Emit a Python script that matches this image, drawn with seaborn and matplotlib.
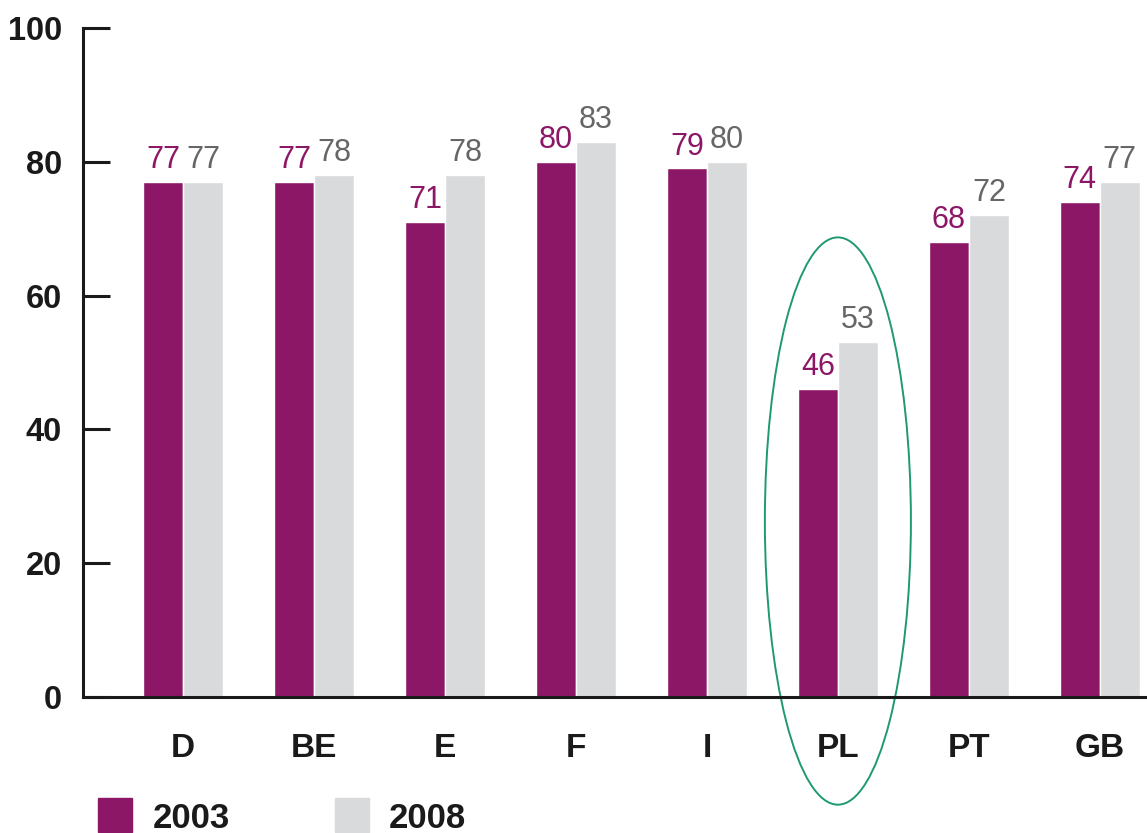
import matplotlib
matplotlib.use("Agg")
import matplotlib.pyplot as plt
import seaborn as sns
import pandas as pd
from matplotlib.patches import Ellipse
from matplotlib.lines import Line2D

countries = ["D", "BE", "E", "F", "I", "PL", "PT", "GB"]
values_2003 = [77, 77, 71, 80, 79, 46, 68, 74]
values_2008 = [77, 78, 78, 83, 80, 53, 72, 77]
years = ["2003", "2008"]
y_ticks = [0, 20, 40, 60, 80, 100]

purple = "#8C1766"
grey = "#D9DADB"
label_grey = "#666666"
dark = "#1a1a1a"

df = pd.DataFrame({
    "country": countries * 2,
    "value": values_2003 + values_2008,
    "year": [years[0]] * len(countries) + [years[1]] * len(countries),
})

sns.set_style("white")
plt.rcParams["font.family"] = ["Liberation Sans", "DejaVu Sans"]

fig = plt.figure(figsize=(11.47, 8.33), dpi=100)
ax = fig.add_axes([0.0724, 0.1633, 0.9276, 0.8031])

sns.barplot(data=df, x="country", y="value", hue="year", order=countries,
            hue_order=years, palette=[purple, grey], width=0.61, gap=0,
            saturation=1, legend=False, ax=ax, errorbar=None)

ax.set_ylim(0, 100)
ax.set_xlim(-0.763, 7.36)
ax.set_yticks(y_ticks)
ax.set_xlabel("")
ax.set_ylabel("")

for spine in ["top", "right"]:
    ax.spines[spine].set_visible(False)
for spine in ["left", "bottom"]:
    ax.spines[spine].set_linewidth(2.2)
    ax.spines[spine].set_color(dark)

ax.tick_params(axis="y", left=True, direction="in", length=19.5, width=2.2,
               color=dark, labelsize=23.5, pad=15)
ax.tick_params(axis="x", bottom=False, length=0, labelsize=24, pad=26)
for lab in ax.get_yticklabels() + ax.get_xticklabels():
    lab.set_fontweight("bold")
    lab.set_color(dark)

# value labels
label_colors = [purple, label_grey]
for cont, col, vals in zip(ax.containers, label_colors, [values_2003, values_2008]):
    ax.bar_label(cont, labels=[str(v) for v in vals], padding=5, color=col,
                 fontsize=22)

# highlight ellipse around PL
pl_idx = countries.index("PL")
ell = Ellipse((pl_idx, 26.3), width=1.115, height=84.8, fill=False,
              edgecolor="#1E9A6E", linewidth=1.4, clip_on=False)
ax.add_patch(ell)

# legend
handles = [Line2D([], [], marker="s", linestyle="none", markersize=25,
                  markerfacecolor=c, markeredgecolor=c) for c in [purple, grey]]
leg = fig.legend(handles, years, loc="center left",
                 bbox_to_anchor=(98 / 1147, 1 - 818 / 833),
                 ncol=2, frameon=False, borderpad=0, borderaxespad=0,
                 handlelength=1.0, handletextpad=0.58, columnspacing=3.0,
                 prop={"weight": "bold", "size": 25})
for t in leg.get_texts():
    t.set_color(dark)

fig.savefig("out.png", dpi=100)
